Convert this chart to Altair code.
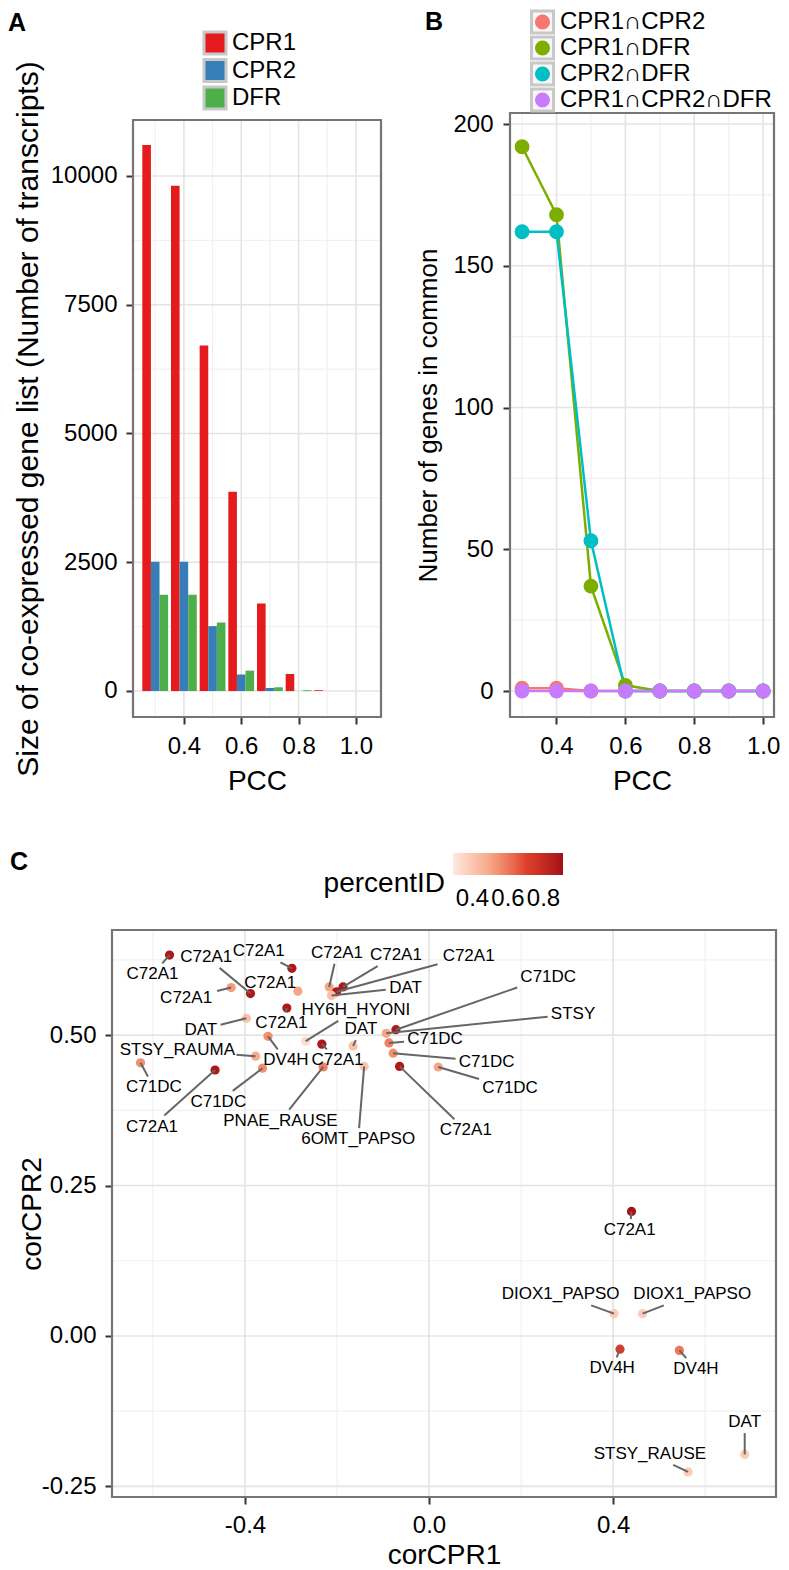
import altair as alt
import pandas as pd

FONT = "Liberation Sans"

# ---------------- Panel A data ----------------
pcc = [0.3, 0.4, 0.5, 0.6, 0.7, 0.8, 0.9, 1.0]
a_groups = ["CPR1", "CPR2", "DFR"]
a_colors = ["#E41A1C", "#377EB8", "#4DAF4A"]
a_cpr1 = [10600, 9810, 6710, 3870, 1700, 330, 15, 0]
a_cpr2 = [2510, 2510, 1260, 320, 58, 0, 0, 0]
a_dfr = [1870, 1870, 1330, 395, 72, 15, 0, 0]

# ---------------- Panel B data ----------------
b_series = ["CPR1∩CPR2", "CPR1∩DFR", "CPR2∩DFR", "CPR1∩CPR2∩DFR"]
b_colors = ["#F8766D", "#7CAE00", "#00BFC4", "#C77CFF"]
b_c1c2 = [1, 1, 0, 0, 0, 0, 0, 0]
b_c1dfr = [192, 168, 37, 2, 0, 0, 0, 0]
b_c2dfr = [162, 162, 53, 0, 0, 0, 0, 0]
b_all3 = [0, 0, 0, 0, 0, 0, 0, 0]

# ---------------- Panel C data ----------------
c_gene = ["C72A1", "C72A1", "C72A1", "C72A1", "C72A1", "C72A1", "C72A1", "C72A1",
          "DAT", "C72A1", "DAT", "HY6H_HYONI", "DV4H", "STSY_RAUMA", "C71DC",
          "C72A1", "C71DC", "C72A1", "PNAE_RAUSE", "DAT", "6OMT_PAPSO", "C71DC",
          "STSY", "C71DC", "C71DC", "C71DC", "C72A1", "C72A1", "DIOX1_PAPSO",
          "DIOX1_PAPSO", "DV4H", "DV4H", "STSY_RAUSE", "DAT"]
c_cor1 = [-0.564, -0.298, -0.430, -0.388, -0.285, -0.217, -0.187, -0.201,
          -0.212, -0.309, -0.397, -0.268, -0.350, -0.377, -0.627,
          -0.465, -0.362, -0.233, -0.230, -0.165, -0.141, -0.072,
          -0.093, -0.087, -0.078, 0.020, -0.064, 0.440, 0.402,
          0.464, 0.415, 0.544, 0.563, 0.686]
c_cor2 = [0.633, 0.611, 0.579, 0.569, 0.573, 0.580, 0.580, 0.572,
          0.566, 0.545, 0.528, 0.490, 0.498, 0.465, 0.454,
          0.442, 0.445, 0.485, 0.447, 0.482, 0.448, 0.509,
          0.503, 0.487, 0.470, 0.447, 0.448, 0.207, 0.037,
          0.037, -0.022, -0.024, -0.226, -0.197]
c_pid = [0.88, 0.88, 0.52, 0.88, 0.50, 0.50, 0.88, 0.88,
         0.42, 0.88, 0.42, 0.33, 0.55, 0.48, 0.55,
         0.88, 0.55, 0.88, 0.58, 0.42, 0.40, 0.88,
         0.50, 0.58, 0.55, 0.50, 0.88, 0.90, 0.38,
         0.38, 0.72, 0.60, 0.38, 0.38]
c_lab_x = [-0.601, -0.370, -0.528, -0.484, -0.345, -0.200, -0.072, 0.086,
           -0.051, -0.321, -0.496, -0.159, -0.311, -0.547, -0.598,
           -0.602, -0.458, -0.199, -0.323, -0.148, -0.154, 0.259,
           0.313, 0.013, 0.125, 0.176, 0.080, 0.436, 0.286,
           0.572, 0.398, 0.580, 0.480, 0.686]
c_lab_y = [0.601, 0.639, 0.561, 0.630, 0.587, 0.637, 0.633, 0.632,
           0.579, 0.520, 0.509, 0.542, 0.458, 0.475, 0.413,
           0.348, 0.389, 0.458, 0.358, 0.510, 0.327, 0.597,
           0.535, 0.493, 0.456, 0.412, 0.342, 0.176, 0.069,
           0.069, -0.054, -0.055, -0.196, -0.143]

# ---------------- geometry / style ----------------
WA, HA = 248, 597
WB, HB = 264, 604
WC, HC = 664, 567
GRID_MAJ = "#e4e4e4"
GRID_MIN = "#f1f1f1"
BORDER = "#757575"
ONE = pd.DataFrame({"k": [0]})


def rules(vals, ch, scale, axis, color, width):
    df = pd.DataFrame({"v": vals})
    if ch == "x":
        enc = alt.X("v:Q", scale=scale, axis=axis)
    else:
        enc = alt.Y("v:Q", scale=scale, axis=axis)
    return alt.Chart(df).mark_rule(color=color, strokeWidth=width).encode(**{ch: enc})


def border(w, h):
    return alt.Chart(ONE).mark_rect(fillOpacity=0, stroke=BORDER, strokeWidth=2.2).encode(
        x=alt.value(0), x2=alt.value(w), y=alt.value(0), y2=alt.value(h))


def text(txt, x, y, size=24, weight="normal", align="left", baseline="middle"):
    return alt.Chart(pd.DataFrame({"t": [txt]})).mark_text(
        font=FONT, fontSize=size, fontWeight=weight, align=align, baseline=baseline,
        color="black").encode(x=alt.value(x), y=alt.value(y), text="t:N")


def square(x, y, side, color):
    return alt.Chart(ONE).mark_square(size=side * side, color=color, opacity=1).encode(
        x=alt.value(x), y=alt.value(y))


def anchor(x, y):
    # invisible point that fixes the top edge of the figure
    return alt.Chart(ONE).mark_point(size=1, opacity=0).encode(
        x=alt.value(x), y=alt.value(y))


def spacer(w, h):
    return alt.Chart(ONE).mark_point(opacity=0).encode(
        x=alt.value(0), y=alt.value(0)).properties(width=w, height=h)


def neg_fmt(fmt):
    return ("datum.value < 0 ? '-' + format(-datum.value, '%s') : format(datum.value, '%s')"
            % (fmt, fmt))


def x_axis(values, fmt, title, w, title_y, pad, tsize=28):
    return alt.Axis(values=values, labelExpr=neg_fmt(fmt), title=title, titleX=w / 2,
                    titleY=title_y, titleAlign="center", titleBaseline="middle",
                    titleAngle=0, labelPadding=pad, titleFontSize=tsize)


def y_axis(values, fmt, title, h, title_x, pad, tsize=28):
    return alt.Axis(values=values, labelExpr=neg_fmt(fmt), title=title, titleX=title_x,
                    titleY=h / 2, titleAngle=270, titleAlign="center",
                    titleBaseline="middle", labelPadding=pad, titleFontSize=tsize)


# ---------------- Panel A ----------------
xA = alt.Scale(domain=[0.2225, 1.0875], nice=False, zero=False)
yA = alt.Scale(domain=[-505, 11087], nice=False, zero=False)
axXA = x_axis([0.4, 0.6, 0.8, 1.0], ".1f", "PCC", WA, 64, 10)
axYA = y_axis([0, 2500, 5000, 7500, 10000], "d",
              "Size of co-expressed gene list (Number of transcripts)", HA, -105, 9, 30)
rowsA = []
for k, (g, vals) in enumerate(zip(a_groups, [a_cpr1, a_cpr2, a_dfr])):
    for p, v in zip(pcc, vals):
        x0 = p - 0.045 + 0.03 * k
        rowsA.append({"grp": g, "pcc": p, "x0": x0, "x1": x0 + 0.03, "val": v})
dfA = pd.DataFrame(rowsA)

barsA = alt.Chart(dfA).mark_rect().encode(
    x=alt.X("x0:Q", scale=xA, axis=axXA),
    x2="x1:Q",
    y=alt.Y("val:Q", scale=yA, axis=axYA),
    y2=alt.datum(0),
    color=alt.Color("grp:N", scale=alt.Scale(domain=a_groups, range=a_colors), legend=None),
)

layersA = [
    rules([0.3, 0.5, 0.7, 0.9], "x", xA, axXA, GRID_MIN, 1.2),
    rules([1250, 3750, 6250, 8750], "y", yA, axYA, GRID_MIN, 1.2),
    rules([0.4, 0.6, 0.8, 1.0], "x", xA, axXA, GRID_MAJ, 1.6),
    rules([0, 2500, 5000, 7500, 10000], "y", yA, axYA, GRID_MAJ, 1.6),
    barsA,
    border(WA, HA),
    text("A", -125, -109, size=25, weight="bold", baseline="top"),
]
for i, (g, c) in enumerate(zip(a_groups, a_colors)):
    yy = -77 + 27.5 * i
    layersA += [square(82, yy, 25, "#c8c8c8"), square(82, yy, 19, c), text(g, 99, yy)]
panelA = alt.layer(*layersA).properties(width=WA, height=HA)

# ---------------- Panel B ----------------
xB = alt.Scale(domain=[0.265, 1.0315], nice=False, zero=False)
yB = alt.Scale(domain=[-9.17, 203.9], nice=False, zero=False)
axXB = x_axis([0.4, 0.6, 0.8, 1.0], ".1f", "PCC", WB, 64, 10)
axYB = y_axis([0, 50, 100, 150, 200], "d", "Number of genes in common", HB, -82, 10, 26)
rowsB = []
for s, vals in zip(b_series, [b_c1c2, b_c1dfr, b_c2dfr, b_all3]):
    for p, v in zip(pcc, vals):
        rowsB.append({"series": s, "pcc": p, "n": v})
dfB = pd.DataFrame(rowsB)
colB = alt.Color("series:N", scale=alt.Scale(domain=b_series, range=b_colors), legend=None)

linesB = alt.Chart(dfB).mark_line(strokeWidth=2.5).encode(
    x=alt.X("pcc:Q", scale=xB, axis=axXB),
    y=alt.Y("n:Q", scale=yB, axis=axYB),
    color=colB, detail="series:N",
)
pointsB = alt.Chart(dfB).mark_circle(size=220, opacity=1).encode(
    x=alt.X("pcc:Q", scale=xB, axis=axXB),
    y=alt.Y("n:Q", scale=yB, axis=axYB),
    color=colB,
)
layersB = [
    rules([0.3, 0.5, 0.7, 0.9], "x", xB, axXB, GRID_MIN, 1.2),
    rules([25, 75, 125, 175], "y", yB, axYB, GRID_MIN, 1.2),
    rules([0.4, 0.6, 0.8, 1.0], "x", xB, axXB, GRID_MAJ, 1.6),
    rules([0, 50, 100, 150, 200], "y", yB, axYB, GRID_MAJ, 1.6),
    linesB, pointsB, border(WB, HB),
    anchor(0, -104.5),
    text("B", -85, -103, size=25, weight="bold", baseline="top"),
]
for i, (s, c) in enumerate(zip(b_series, b_colors)):
    yy = -91 + 26 * i
    layersB += [
        square(32.5, yy, 25, "#c8c8c8"), square(32.5, yy, 19, "#f7f7f7"),
        alt.Chart(ONE).mark_circle(size=227, color=c, opacity=1).encode(
            x=alt.value(32.5), y=alt.value(yy)),
        text(s, 50, yy),
    ]
panelB = alt.layer(*layersB).properties(width=WB, height=HB)

# ---------------- Panel C ----------------
c_xdom = [-0.689, 0.754]
c_ydom = [-0.2677, 0.6747]
xC = alt.Scale(domain=c_xdom, nice=False, zero=False)
yC = alt.Scale(domain=c_ydom, nice=False, zero=False)
axXC = x_axis([-0.4, 0.0, 0.4], ".1f", "corCPR1", WC, 58, 9)
axYC = y_axis([-0.25, 0.0, 0.25, 0.5], ".2f", "corCPR2", HC, -80, 9)
SXc = WC / (c_xdom[1] - c_xdom[0])
SYc = HC / (c_ydom[1] - c_ydom[0])

dfC = pd.DataFrame({"gene": c_gene, "x": c_cor1, "y": c_cor2, "pid": c_pid,
                    "lx": c_lab_x, "ly": c_lab_y})
segs = []
for g, x, y, lx, ly in zip(c_gene, c_cor1, c_cor2, c_lab_x, c_lab_y):
    dx = (lx - x) * SXc
    dy = (ly - y) * SYc
    hw = len(g) * 11.2 / 2 + 3
    hh = 11
    if abs(dx) <= hw and abs(dy) <= hh:
        continue
    t = min(hw / abs(dx) if dx else 1e9, hh / abs(dy) if dy else 1e9)
    segs.append({"x": x, "y": y, "ex": lx - (lx - x) * t, "ey": ly - (ly - y) * t})
dfS = pd.DataFrame(segs)

colC = alt.Color("pid:Q", scale=alt.Scale(
    domain=[0.29, 0.5, 0.7, 0.91],
    range=["#fde9e1", "#f6a686", "#e0402e", "#a50f15"], interpolate="lab"),
    legend=alt.Legend(orient="none", legendX=341, legendY=-77, direction="horizontal",
                      gradientLength=110, gradientThickness=22, title=None,
                      values=[0.4, 0.6, 0.8], format=".1f", labelFont=FONT,
                      labelFontSize=24, labelColor="black", labelOverlap=False,
                      labelOffset=12, padding=0, gradientStrokeWidth=0))

pointsC = alt.Chart(dfC).mark_circle(size=85, opacity=1).encode(
    x=alt.X("x:Q", scale=xC, axis=axXC),
    y=alt.Y("y:Q", scale=yC, axis=axYC),
    color=colC,
)
segsC = alt.Chart(dfS).mark_rule(color="#666666", strokeWidth=2).encode(
    x=alt.X("x:Q", scale=xC, axis=axXC), y=alt.Y("y:Q", scale=yC, axis=axYC),
    x2="ex:Q", y2="ey:Q")
labelsC = alt.Chart(dfC).mark_text(font=FONT, fontSize=17, color="black").encode(
    x=alt.X("lx:Q", scale=xC, axis=axXC), y=alt.Y("ly:Q", scale=yC, axis=axYC),
    text="gene:N")

panelC = alt.layer(
    rules([-0.6, -0.2, 0.2, 0.6], "x", xC, axXC, GRID_MIN, 1.2),
    rules([-0.125, 0.125, 0.375, 0.625], "y", yC, axYC, GRID_MIN, 1.2),
    rules([-0.4, 0.0, 0.4], "x", xC, axXC, GRID_MAJ, 1.6),
    rules([-0.25, 0.0, 0.25, 0.5], "y", yC, axYC, GRID_MAJ, 1.6),
    pointsC, segsC, labelsC, border(WC, HC),
    text("percentID", 333, -46, size=28, align="right"),
    text("C", -102, -80, size=25, weight="bold", baseline="top"),
).properties(width=WC, height=HC)

# ---------------- layout ----------------
# with flush bounds a nested concat counts as zero size, so spacings include it
colA = alt.vconcat(spacer(1, 7), panelA, spacing=0, bounds="flush").resolve_scale(
    color="independent")
topAB = alt.hconcat(colA, panelB, spacing=WA + 129, bounds="flush").resolve_scale(
    color="independent")
row1 = alt.hconcat(spacer(21, 1), topAB, spacing=0, bounds="flush").resolve_scale(
    color="independent")
chart = alt.vconcat(row1, panelC, spacing=HB + 213, bounds="flush").resolve_scale(
    color="independent").properties(
    padding={"left": 0, "top": 0, "right": 0, "bottom": 4}
).configure_view(strokeWidth=0).configure_axis(
    labelFont=FONT, labelFontSize=24, labelColor="black",
    titleFont=FONT, titleFontSize=28, titleColor="black", titleFontWeight="normal",
    tickColor="#333333", tickWidth=2, tickSize=7, domain=False, grid=False,
)

chart.save("out.html", embed_options={"renderer": "svg", "actions": False})
